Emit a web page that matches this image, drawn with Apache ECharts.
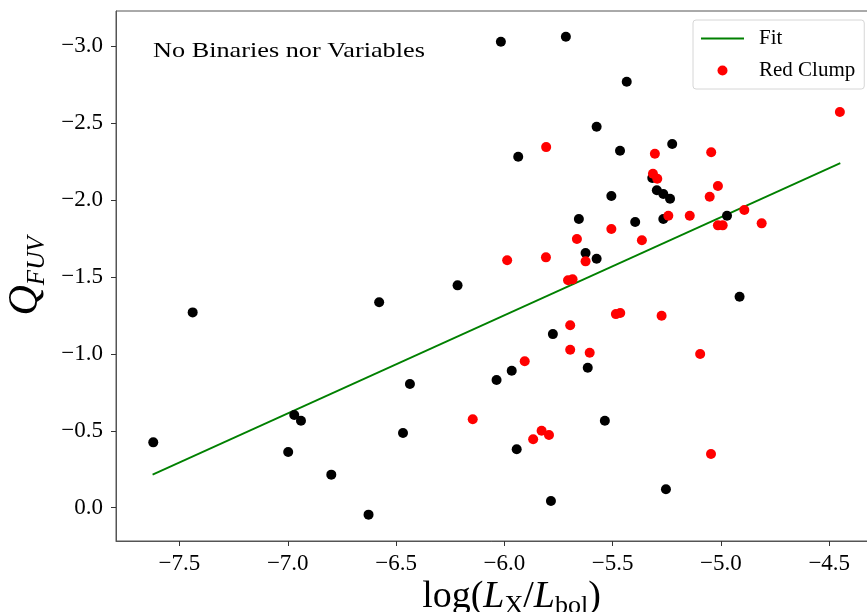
<!DOCTYPE html>
<html>
<head>
<meta charset="utf-8">
<script src="https://cdn.jsdelivr.net/npm/echarts@6/dist/echarts.min.js"></script>
<style>
html,body{margin:0;padding:0;background:#fff;}
#chart{width:867px;height:612px;}
</style>
</head>
<body>
<div id="chart"></div>
<script>
// ---- data ----
const blackX = [-7.621,-7.439,-6.970,-6.939,-6.998,-6.799,-6.627,-6.578,-6.436,-6.468,-6.216,-6.036,-5.966,-5.776,-5.615,-4.914,-5.656,-5.625,-5.574,-5.506,-5.396,-5.296,-5.266,-5.235,-5.317,-5.266,-4.972,-5.936,-6.016,-5.716,-5.435,-5.574,-5.466,-5.225,-5.536,-5.943,-5.785,-5.254];
const blackY = [-0.425,-1.270,-0.603,-0.566,-0.362,-0.215,0.045,-1.336,-0.804,-0.486,-1.446,-0.830,-0.891,-1.129,-0.910,-1.372,-1.877,-1.656,-1.619,-2.027,-1.858,-2.064,-2.040,-2.009,-2.144,-1.877,-1.899,-2.282,-3.030,-3.062,-2.770,-2.477,-2.321,-2.365,-0.566,-0.380,-0.044,-0.120];
const redX = [-6.146,-5.867,-5.828,-5.794,-5.046,-5.906,-5.696,-5.696,-5.606,-5.485,-5.465,-5.274,-5.096,-5.987,-5.808,-5.706,-5.685,-5.625,-5.665,-5.506,-5.365,-5.243,-5.144,-5.014,-4.992,-4.892,-4.812,-5.052,-5.014,-5.314,-5.294,-5.305,-5.045,-5.807,-4.451];
const redY = [-0.575,-0.445,-0.501,-0.473,-0.349,-0.952,-1.186,-1.027,-1.008,-1.259,-1.266,-1.248,-0.999,-1.609,-1.628,-1.479,-1.485,-1.602,-1.747,-1.812,-1.739,-1.899,-1.899,-1.836,-1.836,-1.936,-1.849,-2.022,-2.092,-2.172,-2.139,-2.302,-2.311,-2.345,-2.573];
const fitX = [-7.624, -4.449];
const fitY = [-0.215, -2.241];
const xTicks = [-7.5,-7.0,-6.5,-6.0,-5.5,-5.0,-4.5];
const yTicks = [-3.0,-2.5,-2.0,-1.5,-1.0,-0.5,0.0];
const annotation = 'No Binaries nor Variables';

const serif = '"Liberation Serif", "DejaVu Serif", serif';
const fmt = v => v.toFixed(1).replace('-', '\u2212');
const zip = (a, b) => a.map((v, i) => [v, b[i]]);

const chart = echarts.init(document.getElementById('chart'), null, {renderer: 'canvas'});
chart.setOption({
  animation: false,
  backgroundColor: '#fff',
  grid: {
    left: 116, top: 11, right: -6, bottom: 71,
    show: true, borderColor: '#555', borderWidth: 1,
    containLabel: false, outerBoundsMode: 'none'
  },
  legend: {
    data: [{name: 'Fit', itemStyle: {opacity: 0}}, 'Red Clump'],
    orient: 'vertical',
    left: 693, top: 20,
    padding: [8, 9, 8, 7],
    itemWidth: 43, itemHeight: 10, itemGap: 11,
    backgroundColor: 'rgba(255,255,255,0.8)',
    borderColor: '#d6d6d6', borderWidth: 1, borderRadius: 3,
    textStyle: {fontFamily: serif, fontSize: 21, color: '#000', lineHeight: 20, padding: [0,0,0,10]}
  },
  xAxis: {
    type: 'value', min: -7.793, max: -4.298,
    splitLine: {show: false},
    axisLine: {show: true, onZero: false, lineStyle: {color: '#555', width: 1}},
    axisTick: {show: true, customValues: xTicks, length: 5, lineStyle: {color: '#333'}},
    axisLabel: {customValues: xTicks, formatter: fmt, fontFamily: serif, fontSize: 23, color: '#000', margin: 11},
    name: '{n|log(}{i|L}{s|X}{n|/}{i|L}{s|bol}{n|)}',
    nameLocation: 'middle', nameGap: 34, nameMoveOverlap: false,
    nameTextStyle: {
      padding: [0, 0, 0, 34],
      rich: {
        n: {fontFamily: serif, fontSize: 38, color: '#000', lineHeight: 44, verticalAlign: 'middle'},
        i: {fontFamily: serif, fontSize: 38, fontStyle: 'italic', color: '#000', lineHeight: 44, verticalAlign: 'middle'},
        s: {fontFamily: serif, fontSize: 26, color: '#000', lineHeight: 24, verticalAlign: 'bottom'}
      }
    }
  },
  yAxis: {
    type: 'value', inverse: true, min: -3.23, max: 0.2165,
    splitLine: {show: false},
    axisLine: {show: true, onZero: false, lineStyle: {color: '#555', width: 1}},
    axisTick: {show: true, customValues: yTicks, length: 5, lineStyle: {color: '#333'}},
    axisLabel: {customValues: yTicks, formatter: fmt, fontFamily: serif, fontSize: 23, color: '#000', margin: 13},
    name: '{q|Q}{s|FUV}',
    nameLocation: 'middle', nameGap: 66, nameRotate: 90, nameMoveOverlap: false,
    nameTextStyle: {
      rich: {
        q: {fontFamily: serif, fontSize: 42, fontStyle: 'italic', color: '#000', lineHeight: 48, verticalAlign: 'middle'},
        s: {fontFamily: serif, fontSize: 25, fontStyle: 'italic', color: '#000', lineHeight: 26, verticalAlign: 'bottom'}
      }
    }
  },
  graphic: [{
    type: 'text', x: 153, y: 51, scaleX: 1.25,
    style: {text: annotation, fontFamily: serif, fontSize: 21, fill: '#000', textVerticalAlign: 'middle', verticalAlign: 'middle'}
  }],
  series: [
    {
      name: 'Fit', type: 'line', data: zip(fitX, fitY),
      showSymbol: false, symbol: 'none',
      lineStyle: {color: '#008000', width: 1.8},
      itemStyle: {color: '#008000'}, z: 2
    },
    {
      name: 'Other', type: 'scatter', data: zip(blackX, blackY),
      symbolSize: 10, itemStyle: {color: '#000', opacity: 1}, z: 3
    },
    {
      name: 'Red Clump', type: 'scatter', data: zip(redX, redY),
      symbolSize: 10, itemStyle: {color: '#ff0000', opacity: 1}, z: 4
    }
  ]
});
</script>
</body>
</html>
